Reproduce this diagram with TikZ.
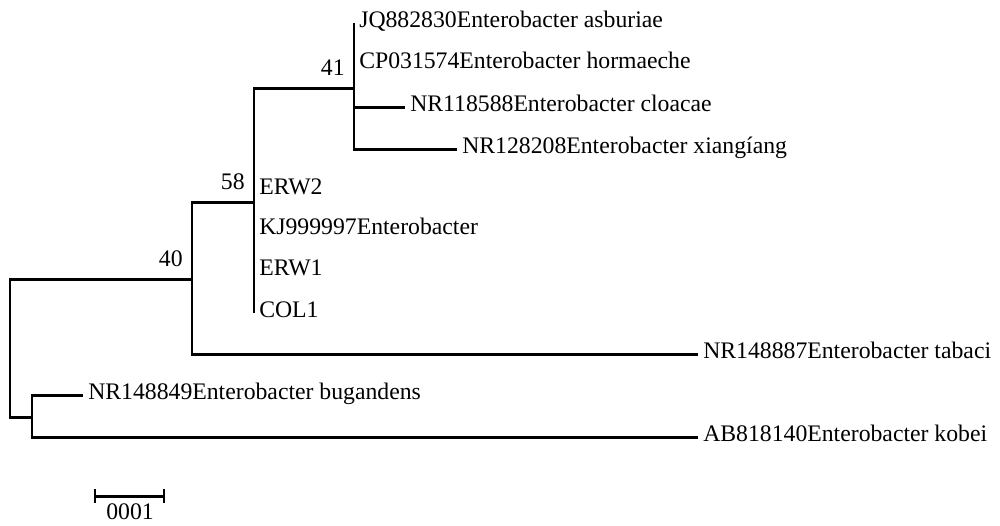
\documentclass[tikz,border=0pt]{standalone}
\usepackage{fontspec}
\setmainfont{Liberation Serif}
\usetikzlibrary{positioning}
\tikzset{
  branch/.style={black,line width=1.7pt},
  leaf/.style={anchor=base west,inner sep=0pt,xshift=2.8pt,yshift=-2.6pt},
  boot/.style={anchor=base east,inner sep=0pt,xshift=-5.1pt,yshift=7.1pt}
}
\begin{document}
\begin{tikzpicture}[x=0.02cm,y=-0.02cm,font=\fontsize{13.5}{16}\selectfont]
\useasboundingbox (0,0) rectangle (1000,525);

% internal nodes
\coordinate (root) at (10,348);
\coordinate (n40) at (192,279);
\coordinate (n58) at (254,202);
\coordinate (n41) at (354,88);
\coordinate (nbk) at (32,417);

% tips and their names
\foreach \n/\x/\y/\t in {JQ/354/23/JQ882830Enterobacter asburiae,
    CP/354/64/CP031574Enterobacter hormaeche,
    NRc/405/107/NR118588Enterobacter cloacae,
    NRx/457/149/NR128208Enterobacter xiangíang,
    ERWb/254/190/ERW2,
    KJ/254/230/KJ999997Enterobacter,
    ERWa/254/271/ERW1,
    COL/254/313/COL1,
    NRt/698/354/NR148887Enterobacter tabaci,
    NRb/83/395/NR148849Enterobacter bugandens,
    AB/698/437/AB818140Enterobacter kobei}
{
  \coordinate (t\n) at (\x,\y);
  \node[leaf] (l\n) at (t\n) {\t};
}

% draw branches
\foreach \p/\c in {root/n40,root/nbk,n40/n58,n40/tNRt,n58/n41,n58/tERWb,n58/tCOL,
    n41/tJQ,n41/tCP,n41/tNRc,n41/tNRx,nbk/tNRb,nbk/tAB}
  \draw[branch] (\p) |- (\c);

% bootstrap values
\node[boot] (b41) at (n41) {41};
\node[boot] (b58) at (n58) {58};
\node[boot] (b40) at (n40) {40};

% scale bar
\coordinate (sb1) at (95,496);
\coordinate (sb2) at (164,496);
\draw[branch] (sb1) -- (sb2);
\foreach \p in {sb1,sb2}
  \draw[branch] (\p) ++(0,-7) -- ++(0,14);
\node[inner sep=0pt] (sblab) at (130,512) {0001};
\end{tikzpicture}
\end{document}
